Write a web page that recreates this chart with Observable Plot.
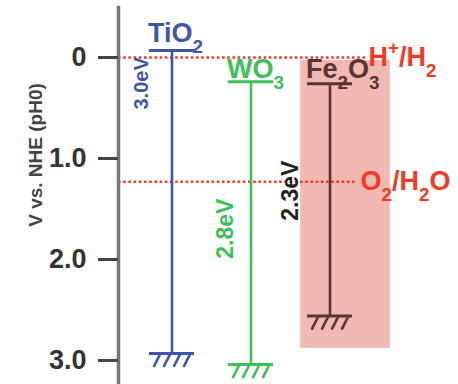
<!DOCTYPE html>
<html>
<head>
<meta charset="utf-8">
<script src="https://cdn.jsdelivr.net/npm/d3@7"></script>
<script src="https://cdn.jsdelivr.net/npm/@observablehq/plot@0.6"></script>
<style>
  body { margin: 0; background: #fff; }
  #chart svg { display: block; }
</style>
</head>
<body>
<div id="chart"></div>
<script>
// Band edges of three photo-electrode materials vs. NHE at pH 0.
// "_x" marks a subscript and "^x" a superscript in label text.
const materials = ["TiO_2", "WO_3", "Fe_2O_3"];
const conductionBand = [-0.07, 0.24, 0.26];   // V vs. NHE
const bandGap = [3.0, 2.8, 2.3];              // eV
const materialColors = ["#3f55a8", "#3cc057", "#5a3430"];

// Water redox potentials
const redoxLevels = [0, 1.23];
const redoxLabels = ["H^+/H_2", "O_2/H_2O"];

// Shaded region behind Fe2O3
const highlightMaterial = "Fe_2O_3";
const highlightRange = [0.03, 2.88];

const yTicks = [0, 1, 2, 3];
const yTickLabels = ["0", "1.0", "2.0", "3.0"];
const yTitle = "V vs. NHE (pH0)";

const rows = materials.map((name, i) => ({
  name,
  cb: conductionBand[i],
  gap: bandGap[i],
  vb: conductionBand[i] + bandGap[i],
  color: materialColors[i],
  gapText: bandGap[i].toFixed(1) + "eV"
}));
const redox = redoxLevels.map((v, i) => ({ v, label: redoxLabels[i] }));

const red = "#f23a24";

// A plain stroke for vector marks (the ground-symbol hatching)
const lineShape = { draw(ctx, l) { ctx.moveTo(0, 0); ctx.lineTo(0, -l); } };

// Per-material placement of the rotated band-gap labels (px from the conduction-band end)
const gapLabelOffsets = [[-30, 33], [-25, 147], [-39, 107]];
const gapLabelSizes = [20, 23, 23];
const labelLift = [-8, -4, -6];
const redoxInsets = [0, 8];

const marks = [
  // shaded Fe2O3 region
  Plot.barY([{ name: highlightMaterial, y1: highlightRange[0], y2: highlightRange[1] }], {
    x: "name", y1: "y1", y2: "y2", fill: "#f1b9b1",
    dx: 15.5, insetLeft: -5.3, insetRight: -5.3
  }),
  // redox levels
  ...redox.map((d, i) => Plot.ruleY([d], {
    y: "v", stroke: red, strokeWidth: 2.6, strokeDasharray: "2.6,2.6",
    insetRight: redoxInsets[i]
  })),
  ...redox.map((d, i) => Plot.text([d], {
    y: "v", text: "label", frameAnchor: "right", textAnchor: "start",
    dx: 3 - redoxInsets[i], lineAnchor: "middle", fill: red, fontSize: 27
  })),
  // band extents
  Plot.ruleX(rows, { x: "name", y1: "cb", y2: "vb", stroke: "color", strokeWidth: 2.6 }),
  Plot.tickY(rows, { x: "name", y: "cb", stroke: "color", strokeWidth: 3, insetLeft: 17, insetRight: 17 }),
  Plot.tickY(rows, { x: "name", y: "vb", stroke: "color", strokeWidth: 3, insetLeft: 17, insetRight: 17 }),
  ...[-12, -2, 8, 18].map(off => Plot.vector(rows, {
    x: "name", y: "vb", dx: off, dy: 1, length: 13, rotate: 207, anchor: "start",
    shape: lineShape, stroke: "color", strokeWidth: 2.6
  })),
  // material names
  ...rows.map((d, i) => Plot.text([d], {
    x: "name", y: "cb", text: "name", fill: "color", textAnchor: "start",
    lineAnchor: "bottom", dx: -24, dy: labelLift[i], fontSize: 27
  })),
  // band-gap labels
  ...rows.map((d, i) => Plot.text([d], {
    x: "name", y: "cb", text: "gapText", fill: d.name === "Fe_2O_3" ? "#222" : "color",
    rotate: -90, lineAnchor: "middle", textAnchor: "middle",
    dx: gapLabelOffsets[i][0], dy: gapLabelOffsets[i][1], fontSize: gapLabelSizes[i]
  })),
  // y axis
  Plot.frame({ anchor: "left", stroke: "#777", strokeWidth: 3.5 }),
  Plot.axisY({
    ticks: yTicks, tickFormat: (d) => yTickLabels[yTicks.indexOf(d)],
    tickSize: 20, tickPadding: 12, stroke: "#444", strokeWidth: 3,
    fill: "#333", fontSize: 27, label: null
  }),
  Plot.text([yTitle], {
    frameAnchor: "left", textAnchor: "middle", dx: -83, dy: -41, rotate: -90,
    fill: "#444", fontSize: 19, lineAnchor: "middle"
  })
];

const chart = Plot.plot({
  width: 458,
  height: 384,
  marginLeft: 118,
  marginRight: 93,
  marginTop: 7,
  marginBottom: 0,
  style: { fontFamily: "'Liberation Sans', Arial, sans-serif", fontWeight: "bold", background: "#fff" },
  x: { type: "band", domain: materials, range: [131, 369], padding: 0, axis: null },
  y: { domain: [-0.495, 3.238], reverse: true },
  color: { type: "identity" },
  marks
});

// Render "_x" / "^x" as subscript / superscript tspans
d3.select(chart).selectAll("text").each(function () {
  const s = this.textContent;
  if (!/[_^]/.test(s)) return;
  const el = d3.select(this);
  el.text(null);
  let shift = 0;
  let buf = "";
  const flush = () => {
    if (!buf) return;
    el.append("tspan").attr("dy", -shift + "em").text(buf);
    shift = 0; buf = "";
  };
  for (let i = 0; i < s.length; i++) {
    const c = s[i];
    if ((c === "_" || c === "^") && i + 1 < s.length) {
      flush();
      const target = c === "_" ? 0.4 : -0.45;
      el.append("tspan").attr("font-size", "0.7em")
        .attr("dy", ((target - shift) / 0.7) + "em").text(s[++i]);
      shift = target;
    } else {
      buf += c;
    }
  }
  flush();
});

document.getElementById("chart").appendChild(chart);
</script>
</body>
</html>
